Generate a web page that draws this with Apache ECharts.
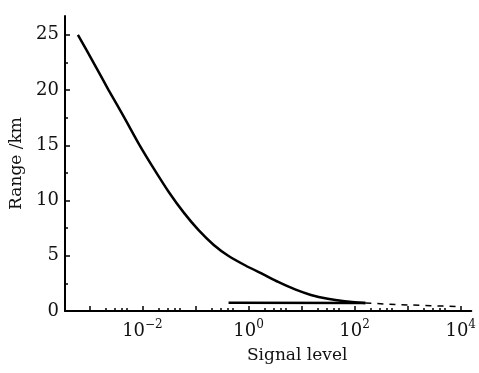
<!DOCTYPE html>
<html>
<head>
<meta charset="utf-8">
<script src="https://cdn.jsdelivr.net/npm/echarts@6/dist/echarts.min.js"></script>
<style>
  html, body { margin: 0; padding: 0; background: #fff; }
  #chart { width: 479px; height: 373px; }
</style>
</head>
<body>
<div id="chart"></div>
<script>
// signal level (linear units) vs range (km)
const upperSignal = [6.07e-4, 1.26e-3, 2.30e-3, 4.58e-3, 8.75e-3, 0.0167, 0.0318, 0.0607, 0.1156,
                     0.221, 0.421, 0.875, 1.90, 3.62, 7.53, 15.0, 31.1, 64.7, 160];
const upperRange  = [25.0, 22.28, 20.0, 17.48, 15.04, 12.82, 10.73, 8.88, 7.29,
                     5.98, 4.98, 4.12, 3.31, 2.63, 1.95, 1.45, 1.105, 0.888, 0.725];
const lowerSignal = [0.42, 160];
const lowerRange  = [0.74, 0.72];
const dashSignal  = [160, 1000, 10000];
const dashRange   = [0.72, 0.55, 0.4];

const decadeTicks = [-3, -2, -1, 0, 1, 2, 3, 4];
const decadeLabels = [-2, 0, 2, 4];
const yTicks = [0, 5, 10, 15, 20, 25];
const yMinorTicks = [2.5, 7.5, 12.5, 17.5, 22.5];

const X_MIN = -3.46, X_MAX = 4.2;
const Y_MAX = 26.7;

const pts = (xs, ys) => xs.map((x, i) => [Math.log10(x), ys[i]]);

const minorTicks = [];
decadeTicks.forEach(d => {
  [2, 3, 4, 5].forEach(k => {
    const v = d + Math.log10(k);
    if (v > X_MIN && v < X_MAX) minorTicks.push(v);
  });
});

const font = 'DejaVu Serif';
const tickLine = { color: '#000', width: 1.5 };
const chart = echarts.init(document.getElementById('chart'));
chart.setOption({
  animation: false,
  backgroundColor: '#fff',
  grid: { left: 65, right: 4, top: 16, bottom: 62 },
  xAxis: [
    {
      type: 'value', min: X_MIN, max: X_MAX,
      name: 'Signal level', nameLocation: 'middle', nameGap: 36,
      nameTextStyle: { fontFamily: font, fontSize: 17, color: '#111', padding: [0, 0, 0, 58] },
      axisLine: { onZero: false, lineStyle: { color: '#000', width: 2 } },
      axisTick: { inside: true, length: 5, customValues: decadeTicks, lineStyle: tickLine },
      axisLabel: {
        customValues: decadeLabels, margin: 8,
        formatter: v => '{b|10}{s|' + String(v).replace('-', '\u2212') + '}',
        rich: {
          b: { fontFamily: font, fontSize: 18, color: '#111' },
          s: { fontFamily: font, fontSize: 12, color: '#111', padding: [0, 0, 12, 0] }
        }
      },
      splitLine: { show: false }
    },
    {
      type: 'value', min: X_MIN, max: X_MAX, position: 'bottom',
      axisLine: { show: false, onZero: false },
      axisTick: { inside: true, length: 3, customValues: minorTicks, lineStyle: tickLine },
      axisLabel: { show: false },
      splitLine: { show: false }
    }
  ],
  yAxis: [
    {
      type: 'value', min: 0, max: Y_MAX,
      name: 'Range /km', nameLocation: 'middle', nameGap: 38, nameRotate: 90,
      nameTextStyle: { fontFamily: font, fontSize: 17, color: '#111' },
      axisLine: { onZero: false, lineStyle: { color: '#000', width: 2 } },
      axisTick: { inside: true, length: 5, customValues: yTicks, lineStyle: tickLine },
      axisLabel: { customValues: yTicks, margin: 6, fontFamily: font, fontSize: 18, color: '#111' },
      splitLine: { show: false }
    },
    {
      type: 'value', min: 0, max: Y_MAX, position: 'left',
      axisLine: { show: false, onZero: false },
      axisTick: { inside: true, length: 3, customValues: yMinorTicks, lineStyle: tickLine },
      axisLabel: { show: false },
      splitLine: { show: false }
    }
  ],
  series: [
    { type: 'line', data: pts(upperSignal, upperRange), smooth: 0.2, showSymbol: false,
      lineStyle: { color: '#000', width: 2.5 } },
    { type: 'line', data: pts(lowerSignal, lowerRange), showSymbol: false,
      lineStyle: { color: '#000', width: 2.5 } },
    { type: 'line', data: pts(dashSignal, dashRange), smooth: 0.3, showSymbol: false,
      lineStyle: { color: '#000', width: 1.5, type: [6, 6] } }
  ]
});
</script>
</body>
</html>
